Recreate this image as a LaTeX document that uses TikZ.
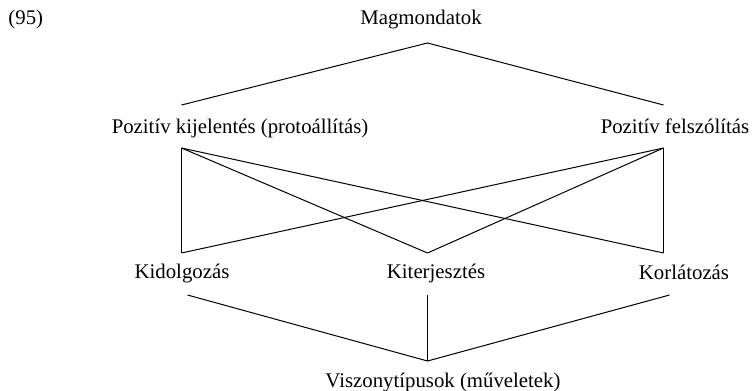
\documentclass[tikz,border=0pt]{standalone}
\usepackage{fontspec}
\setmainfont{Liberation Serif}

\begin{document}
\begin{tikzpicture}[x=0.5pt,y=-0.5pt,line width=0.5pt,
  lbl/.style={anchor=base,inner sep=0pt,font=\fontsize{10.4}{12}\selectfont}]
  \useasboundingbox (0,0) rectangle (753,390);
  % labels
  \node[lbl,anchor=base west] (num) at (8,25) {(95)};
  \node[lbl] (mag) at (421,25) {Magmondatok};
  \node[lbl] (kij) at (240,133) {Pozitív kijelentés (protoállítás)};
  \node[lbl] (fel) at (675,133) {Pozitív felszólítás};
  \node[lbl] (kid) at (182,278) {Kidolgozás};
  \node[lbl] (kit) at (436,278) {Kiterjesztés};
  \node[lbl] (kor) at (684,279) {Korlátozás};
  \node[lbl] (visz) at (443,387) {Viszonytípusok (műveletek)};
  % line ends
  \coordinate (magB) at (427.5,43);
  \coordinate (kijT) at (181.5,105); \coordinate (felT) at (663.5,105);
  \coordinate (kijB) at (181.5,148); \coordinate (felB) at (663.5,148);
  \coordinate (kidT) at (181.5,253); \coordinate (kitT) at (427.5,253);
  \coordinate (korT) at (663.5,253);
  \coordinate (kidB) at (187.5,295); \coordinate (kitB) at (427.5,295);
  \coordinate (korB) at (669.5,295);
  \coordinate (viszT) at (427.5,361);
  % lines
  \draw (kijT) -- (magB) -- (felT);
  \foreach \s in {kijB,felB} {
    \foreach \t in {kidT,kitT,korT} { \draw (\s) -- (\t); }
  }
  \draw (kidB) -- (viszT) -- (korB);
  \draw (kitB) -- (viszT);
\end{tikzpicture}
\end{document}
